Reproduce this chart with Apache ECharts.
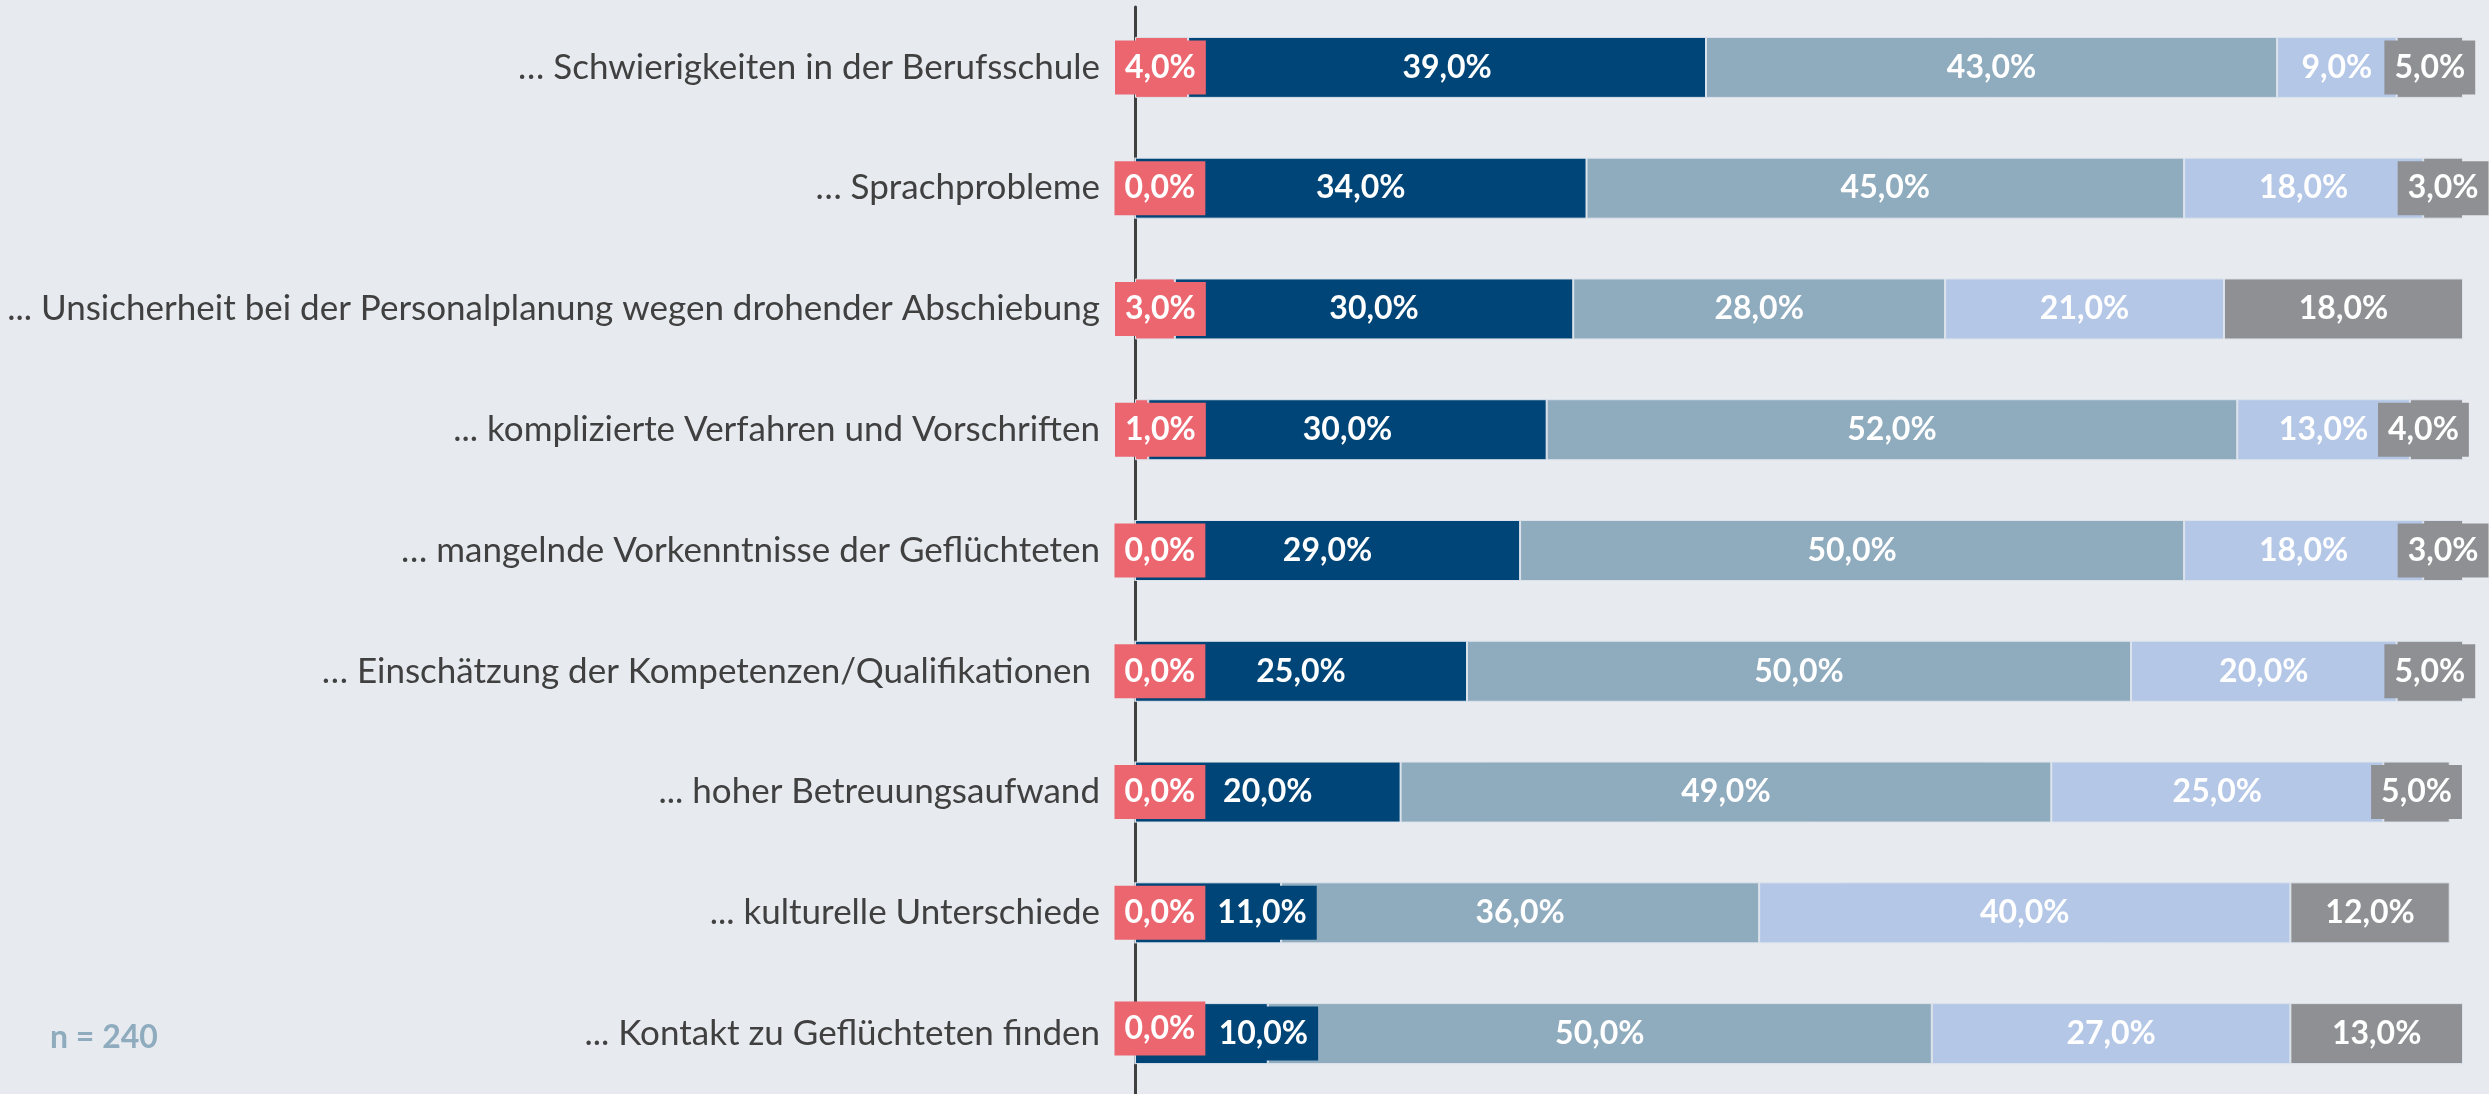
<!DOCTYPE html>
<html>
<head>
<meta charset="utf-8">
<script src="https://cdn.jsdelivr.net/npm/echarts@6/dist/echarts.min.js"></script>
<style>
  html, body { margin: 0; padding: 0; background: #E7EAEF; }
  #chart { width: 2489px; height: 1094px; }
</style>
</head>
<body>
<div id="chart"></div>
<script>
const categories = [
  '… Schwierigkeiten in der Berufsschule',
  '… Sprachprobleme',
  '... Unsicherheit bei der Personalplanung wegen drohender Abschiebung',
  '... komplizierte Verfahren und Vorschriften',
  '… mangelnde Vorkenntnisse der Geflüchteten',
  '… Einschätzung der Kompetenzen/Qualifikationen ',
  '... hoher Betreuungsaufwand',
  '... kulturelle Unterschiede',
  '... Kontakt zu Geflüchteten finden'
];
const redVals   = [4, 0, 3, 1, 0, 0, 0, 0, 0];
const darkVals  = [39, 34, 30, 30, 29, 25, 20, 11, 10];
const midVals   = [43, 45, 28, 52, 50, 50, 49, 36, 50];
const lightVals = [9, 18, 21, 13, 18, 20, 25, 40, 27];
const greyVals  = [5, 3, 18, 4, 3, 5, 5, 12, 13];
const sampleNote = 'n = 240';

const C = { red: '#EC6670', dark: '#004577', mid: '#8FABBE', light: '#B4C7E7', grey: '#8F9093' };
const FONT = 'Lato, "Open Sans", sans-serif';

const fmt = p => p.value.toFixed(1).replace('.', ',') + '%';
const baseLabel = {
  show: true, position: 'inside', color: '#fff', fontFamily: FONT,
  fontWeight: 'bold', fontSize: 32, lineHeight: 38, formatter: fmt
};
const boxed = color => ({ backgroundColor: color, padding: [8, 10] });

const chart = echarts.init(document.getElementById('chart'));

const mkSeries = (name, vals, color, label, itemFn) => ({
  name, type: 'bar', stack: 'total', barWidth: 61,
  itemStyle: { color, borderColor: '#DCE3EC', borderWidth: 1 },
  label: Object.assign({}, baseLabel, label),
  data: vals.map((v, i) => itemFn ? itemFn(v, i) : v)
});

chart.setOption({
  backgroundColor: '#E7EAEF',
  animation: false,
  grid: { left: 1135, right: 26, top: 7, bottom: -4, containLabel: false },
  xAxis: { type: 'value', min: 0, max: 100, show: false },
  yAxis: {
    type: 'category', inverse: true, data: categories,
    axisTick: { show: false },
    axisLine: { show: true, lineStyle: { color: '#404040', width: 3 } },
    axisLabel: { color: '#404040', fontFamily: FONT, fontSize: 35, margin: 35 }
  },
  series: [
    mkSeries('rot', redVals, C.red,
      Object.assign({ position: 'insideLeft', distance: 0, offset: [-20, 0] }, boxed(C.red)),
      (v, i) => i === 8 ? { value: v, label: { offset: [-20, -5] } } : v),
    mkSeries('dunkelblau', darkVals, C.dark, {},
      (v, i) => i >= 7 ? { value: v, label: Object.assign({ offset: [i === 7 ? 54 : 62, 0] }, boxed(C.dark)) } : v),
    mkSeries('graublau', midVals, C.mid, {}),
    mkSeries('hellblau', lightVals, C.light, {}),
    mkSeries('grau', greyVals, C.grey, {},
      (v, i) => v <= 5 ? { value: v, label: Object.assign({ offset: [i === 3 ? -13 : 0, 0] }, boxed(C.grey)) } : v)
  ],
  graphic: [{
    type: 'text',
    style: {
      x: 50, y: 1038, text: sampleNote, verticalAlign: 'middle',
      fill: '#8FABBE', font: 'bold 32px ' + FONT
    }
  }]
});
</script>
</body>
</html>
